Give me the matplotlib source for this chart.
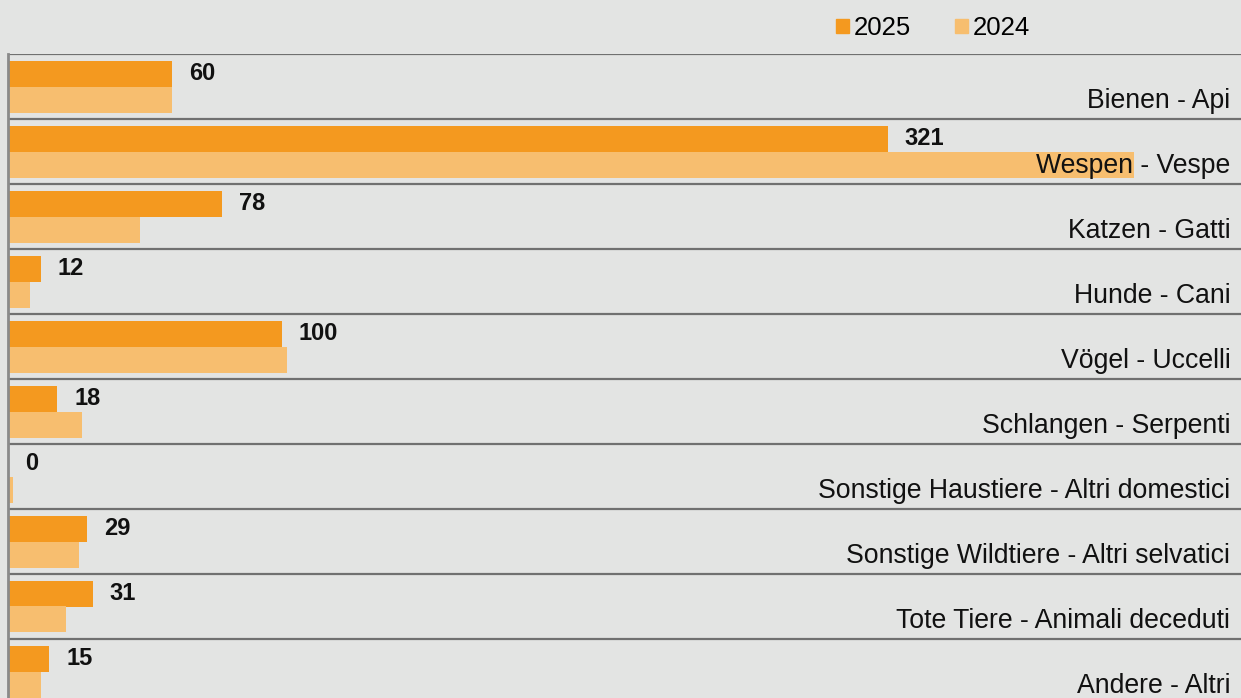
import matplotlib.pyplot as plt
from matplotlib.patches import Patch
import numpy as np

# Daten
kategorien = ['Bienen - Api', 'Wespen - Vespe', 'Katzen - Gatti', 'Hunde - Cani',
              'Vögel - Uccelli', 'Schlangen - Serpenti',
              'Sonstige Haustiere - Altri domestici',
              'Sonstige Wildtiere - Altri selvatici',
              'Tote Tiere - Animali deceduti', 'Andere - Altri']
werte_2025 = [60, 321, 78, 12, 100, 18, 0, 29, 31, 15]
werte_2024 = [60, 411, 48, 8, 102, 27, 2, 26, 21, 12]

farbe_2025 = '#F4991F'
farbe_2024 = '#F7BE6F'
hintergrund = '#E3E4E3'

plt.rcParams['font.family'] = ['Liberation Sans', 'DejaVu Sans']

fig = plt.figure(figsize=(12.41, 6.98), dpi=100, facecolor=hintergrund)
ax = fig.add_axes([8 / 1241, -6 / 698, 1233 / 1241, 650 / 698])
ax.set_facecolor(hintergrund)

y = np.arange(len(kategorien))
ax.barh(y - 0.2, werte_2025, height=0.4, color=farbe_2025, zorder=2)
ax.barh(y + 0.2, werte_2024, height=0.4, color=farbe_2024, zorder=2)

ax.set_xlim(0, 450)
ax.set_ylim(len(kategorien) - 0.5, -0.5)

# Trennlinien
for i in range(-1, len(kategorien)):
    ax.axhline(i + 0.5, color='#707070', lw=1.6, zorder=1)

# Beschriftungen
for i, (name, w) in enumerate(zip(kategorien, werte_2025)):
    ax.text(0.9913, i + 0.22, name, transform=ax.get_yaxis_transform(),
            ha='right', va='center', fontsize=19.2, color='#111111', zorder=3)
    ax.annotate(str(w), (w, i - 0.2), xytext=(12.2, 0), textcoords='offset points',
                ha='left', va='center', fontsize=17, fontweight='bold', color='#111111', zorder=3)

for s in ['top', 'right', 'bottom']:
    ax.spines[s].set_visible(False)
ax.spines['left'].set_color('#8a8a8a')
ax.spines['left'].set_linewidth(2)
ax.set_xticks([])
ax.set_yticks([])

handles = [Patch(color=farbe_2025, label='2025'), Patch(color=farbe_2024, label='2024')]
fig.legend(handles=handles, ncol=2, loc='center', bbox_to_anchor=(0.752, 1 - 28 / 698),
           frameon=False, fontsize=18.5, handlelength=0.5, handleheight=0.5,
           handletextpad=0.2, columnspacing=1.7, borderpad=0)

fig.savefig('out.png', dpi=100, facecolor=hintergrund)
